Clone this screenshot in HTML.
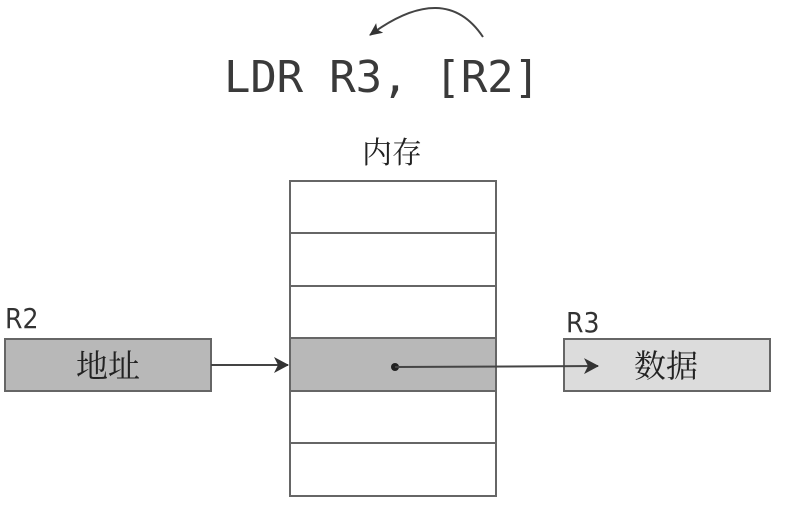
<!DOCTYPE html>
<html><head><meta charset="utf-8"><style>
body{margin:0;background:#fff;width:785px;height:501px;overflow:hidden}
</style></head><body>
<svg width="785" height="501" xmlns="http://www.w3.org/2000/svg">
<defs><marker id="a" markerWidth="14" markerHeight="12" refX="12" refY="6" orient="auto" markerUnits="userSpaceOnUse"><path d="M0,0 L13,6 L0,12 L3,6 z" fill="#333"/></marker>
<marker id="b" markerWidth="16" markerHeight="16" refX="14" refY="8" orient="auto" markerUnits="userSpaceOnUse"><path d="M0,0 L15,8 L0,16 L4,8 z" fill="#333"/></marker></defs>
<path d="M483,37 Q445,-20 370,35" fill="none" stroke="#444" stroke-width="2" marker-end="url(#a)"/>
<text x="224" y="92" font-family="DejaVu Sans Mono, Liberation Mono, monospace" font-size="44" fill="#3a3a3a" textLength="316">LDR R3, [R2]</text>
<text x="392" y="163" text-anchor="middle" font-family="Noto Serif CJK SC, serif" font-size="30" fill="#222">内存</text>
<g stroke="#666" stroke-width="2" fill="none">
<rect x="290" y="338" width="206" height="53" fill="#b8b8b8"/>
<rect x="290" y="181" width="206" height="315"/>
<line x1="290" y1="233" x2="496" y2="233"/><line x1="290" y1="286" x2="496" y2="286"/>
<line x1="290" y1="443" x2="496" y2="443"/>
<rect x="5" y="339" width="206" height="52" fill="#b8b8b8"/>
<rect x="564" y="339" width="206" height="52" fill="#dcdcdc"/>
</g>
<text x="5" y="328" font-family="DejaVu Sans Condensed, DejaVu Sans, sans-serif" font-size="28" fill="#333">R2</text>
<text x="566" y="332" font-family="DejaVu Sans Condensed, DejaVu Sans, sans-serif" font-size="28" fill="#333">R3</text>
<text x="108" y="377" text-anchor="middle" font-family="Noto Serif CJK SC, serif" font-size="32" fill="#222">地址</text>
<text x="666" y="377" text-anchor="middle" font-family="Noto Serif CJK SC, serif" font-size="32" fill="#222">数据</text>
<line x1="211" y1="365" x2="288" y2="365" stroke="#444" stroke-width="2" marker-end="url(#b)"/>
<circle cx="395" cy="367" r="4" fill="#222"/>
<line x1="395" y1="367" x2="598" y2="366" stroke="#444" stroke-width="2" marker-end="url(#b)"/>
</svg>
</body></html>
